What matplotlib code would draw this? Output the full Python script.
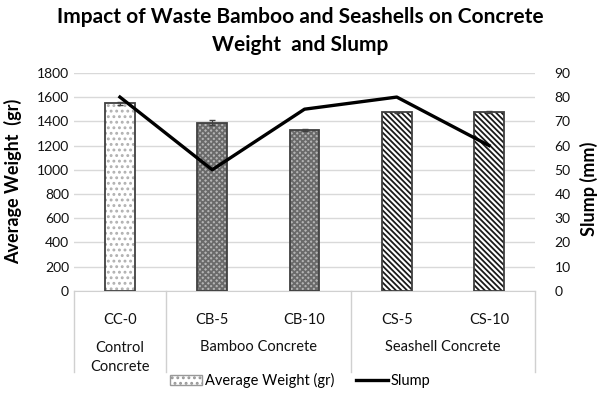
import numpy as np
import matplotlib.pyplot as plt
from matplotlib.patches import Patch
from matplotlib.lines import Line2D

plt.rcParams['font.family'] = ['Lato', 'DejaVu Sans']
plt.rcParams['hatch.linewidth'] = 1.3

# data
mixes = ['CC-0', 'CB-5', 'CB-10', 'CS-5', 'CS-10']
groups = ['Control\nConcrete', 'Bamboo Concrete', 'Seashell Concrete']
group_span = [(0, 0), (1, 2), (3, 4)]
weight = [1547, 1390, 1332, 1473, 1478]
weight_err = [14, 18, 8, 7, 7]
slump = [80, 50, 75, 80, 60]

x = np.arange(len(mixes))

fig = plt.figure(figsize=(6, 3.98), dpi=100)
ax = fig.add_axes([0.123, 0.269, 0.769, 0.548])

# bar styles per mix
faces = ['white', '#b4b4b4', '#b4b4b4', 'white', 'white']
hatches = ['...', 'xxxxxx', 'xxxxxx', '\\\\\\\\\\\\', '\\\\\\\\\\\\']
hcolors = ['#b0b0b0', '#6a6a6a', '#6a6a6a', '#1a1a1a', '#1a1a1a']

for i in range(len(mixes)):
    # hatch layer, then outline on top
    ax.bar(x[i], weight[i], width=0.32, color=faces[i], hatch=hatches[i],
           edgecolor=hcolors[i], linewidth=0, zorder=2)
    ax.bar(x[i], weight[i], width=0.32, fill=False,
           edgecolor='#404040', linewidth=1.3, zorder=3)
ax.errorbar(x, weight, yerr=weight_err, fmt='none', ecolor='#404040',
            elinewidth=0.8, capsize=2, zorder=4)

ax.set_xlim(-0.5, len(mixes) - 0.5)
ax.set_ylim(0, 1800)
ax.set_yticks(np.arange(0, 1801, 200))
ax.grid(axis='y', color='#d9d9d9', linewidth=1, zorder=0)
ax.set_axisbelow(True)
for s in ['top', 'left', 'right']:
    ax.spines[s].set_visible(False)
ax.spines['bottom'].set_color('#d0d0d0')
ax.tick_params(axis='both', length=0, labelsize=10, colors='#111111')
ax.set_xticks(x)
ax.set_xticklabels(mixes, fontsize=10.5)
ax.tick_params(axis='x', pad=16)

ax2 = ax.twinx()
ax2.plot(x, slump, color='black', linewidth=2.4, zorder=5)
ax2.set_ylim(0, 90)
ax2.set_yticks(np.arange(0, 91, 10))
for s in ['top', 'left', 'right', 'bottom']:
    ax2.spines[s].set_visible(False)
ax2.tick_params(axis='y', length=0, labelsize=10, colors='#111111', pad=14)

# second level of the category axis
trans = ax.get_xaxis_transform()
for (a, b), g in zip(group_span, groups):
    yy = -0.305 if '\n' in g else -0.258
    ax.text((a + b) / 2, yy, g, transform=trans, ha='center', va='center',
            fontsize=10.5, color='#111111', linespacing=1.5)
for xs in [-0.5, 0.5, 2.5, 4.5]:
    ax.plot([xs, xs], [0, -0.37], transform=trans, color='#d0d0d0',
            linewidth=1, clip_on=False)

fig.text(0.5, 0.958, 'Impact of Waste Bamboo and Seashells on Concrete',
         ha='center', va='center', fontsize=15, fontweight='bold')
fig.text(0.5, 0.888, 'Weight  and Slump', ha='center', va='center',
         fontsize=15, fontweight='bold')
fig.text(0.022, 0.545, 'Average Weight  (gr)', rotation=90, ha='center',
         va='center', fontsize=13, fontweight='bold')
fig.text(0.982, 0.525, 'Slump (mm)', rotation=90, ha='center',
         va='center', fontsize=13, fontweight='bold')

handles = [Patch(facecolor='white', edgecolor='#999999', hatch='...'),
           Line2D([0], [0], color='black', linewidth=2.4)]
fig.legend(handles, ['Average Weight (gr)', 'Slump'], loc='center',
           bbox_to_anchor=(0.5, 0.043), ncol=2, frameon=False, fontsize=10.5,
           handlelength=2.2, handletextpad=0.2, columnspacing=1.5)

fig.savefig('out.png', dpi=100)
